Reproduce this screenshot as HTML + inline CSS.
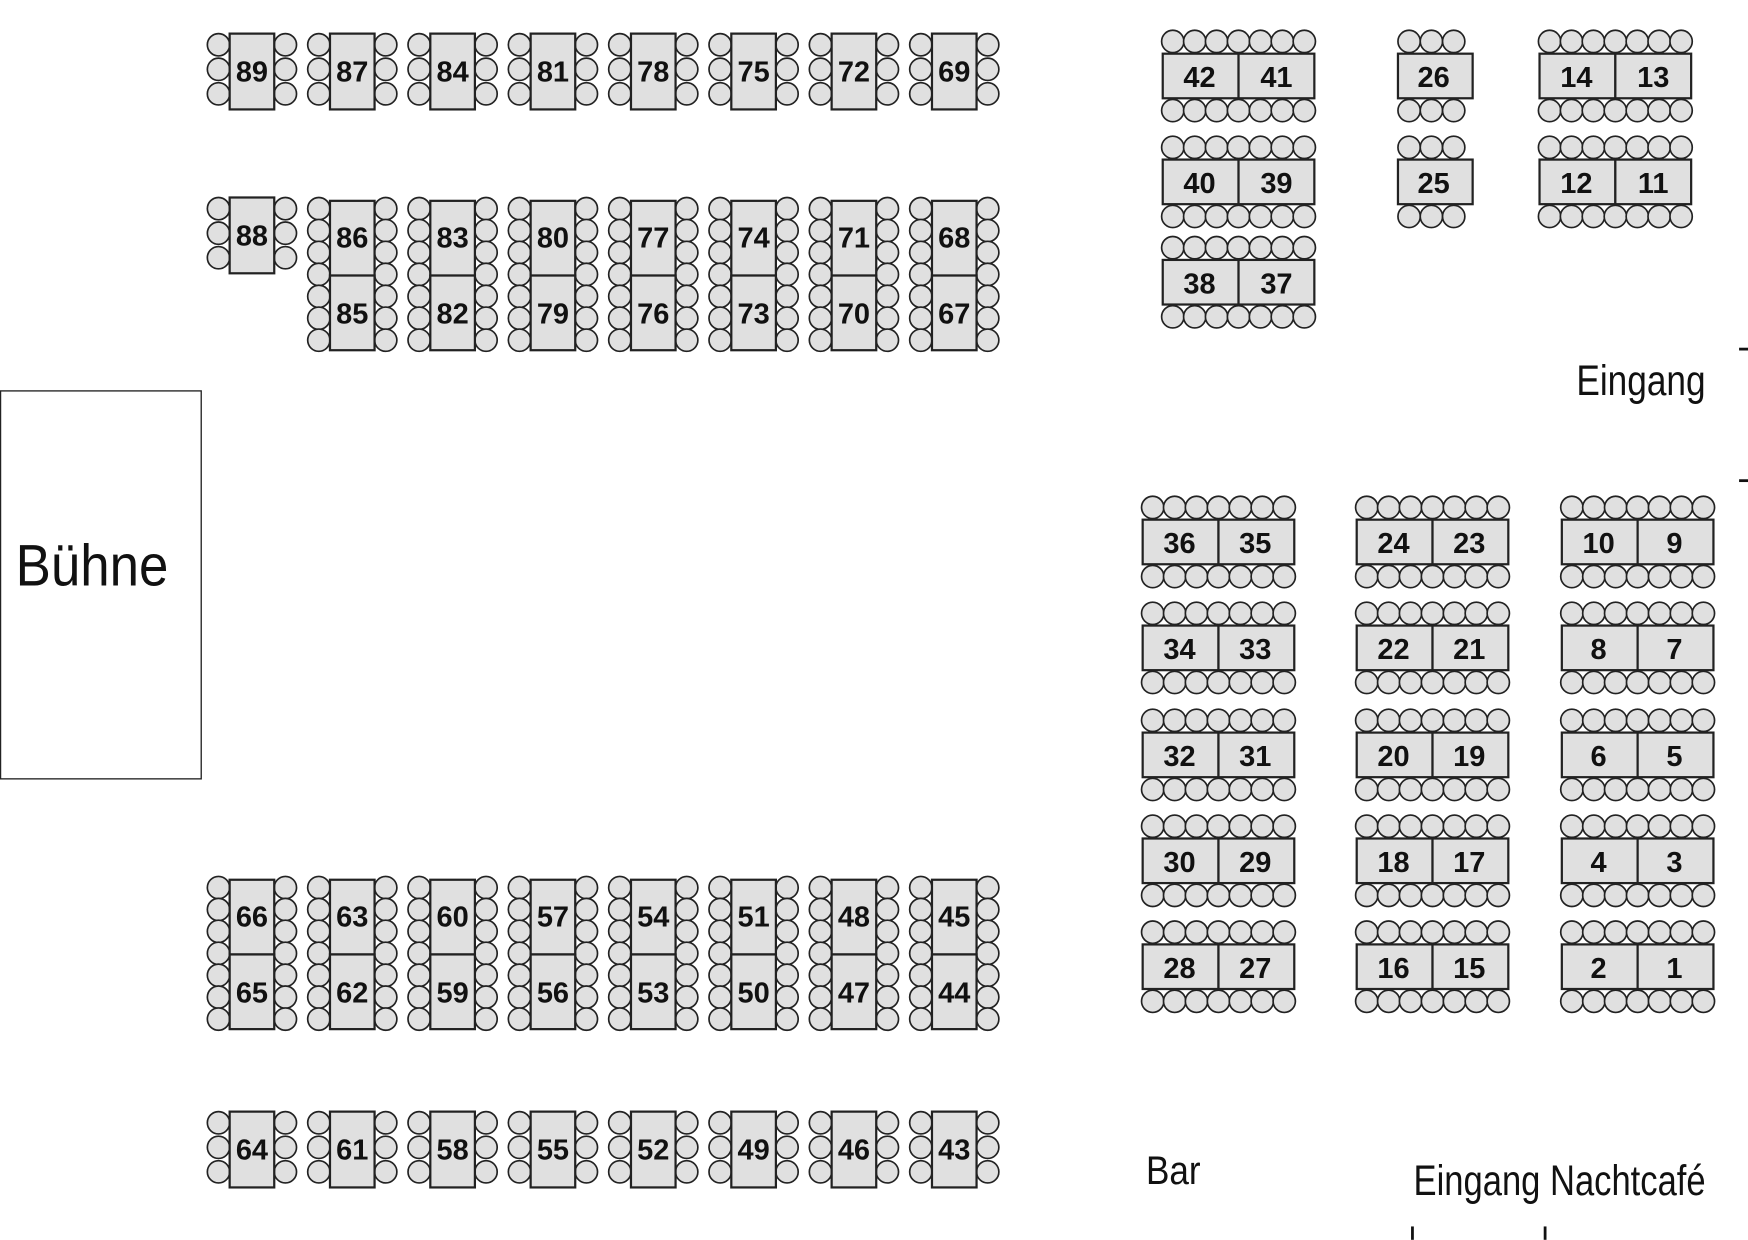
<!DOCTYPE html>
<html><head><meta charset="utf-8"><style>html,body{margin:0;padding:0;background:#fff}svg{display:block}</style></head><body>
<svg width="1748" height="1240" viewBox="0 0 1568 1112" xmlns="http://www.w3.org/2000/svg">
<defs>
<g id="v3" fill="#e0e0e0" stroke="#222" stroke-width="1.5"><circle cx="0" cy="10" r="10"/><circle cx="0" cy="32" r="10"/><circle cx="0" cy="54" r="10"/></g>
<g id="v7" fill="#e0e0e0" stroke="#222" stroke-width="1.5"><circle cx="0" cy="7" r="10"/><circle cx="0" cy="26.7" r="10"/><circle cx="0" cy="46.3" r="10"/><circle cx="0" cy="66" r="10"/><circle cx="0" cy="85.7" r="10"/><circle cx="0" cy="105.3" r="10"/><circle cx="0" cy="125" r="10"/></g>
<g id="h7" fill="#e0e0e0" stroke="#222" stroke-width="1.5"><circle cx="9" cy="0" r="10"/><circle cx="28.7" cy="0" r="10"/><circle cx="48.3" cy="0" r="10"/><circle cx="68" cy="0" r="10"/><circle cx="87.7" cy="0" r="10"/><circle cx="107.3" cy="0" r="10"/><circle cx="127" cy="0" r="10"/></g>
<g id="h3" fill="#e0e0e0" stroke="#222" stroke-width="1.5"><circle cx="10" cy="0" r="10"/><circle cx="30" cy="0" r="10"/><circle cx="50" cy="0" r="10"/></g>
<g id="s1"><use href="#v3" x="-10"/><use href="#v3" x="50"/><rect x="0" y="0" width="40" height="68" fill="#e0e0e0" stroke="#222" stroke-width="2"/></g>
<g id="s2"><use href="#v7" x="-10"/><use href="#v7" x="50"/><rect x="0" y="0" width="40" height="67" fill="#e0e0e0" stroke="#222" stroke-width="2"/><rect x="0" y="67" width="40" height="67" fill="#e0e0e0" stroke="#222" stroke-width="2"/></g>
<g id="hd"><use href="#h7" y="-11"/><use href="#h7" y="51"/><rect x="0" y="0" width="68" height="40" fill="#e0e0e0" stroke="#222" stroke-width="2"/><rect x="68" y="0" width="68" height="40" fill="#e0e0e0" stroke="#222" stroke-width="2"/></g>
<g id="hs"><use href="#h3" y="-11"/><use href="#h3" y="51"/><rect x="0" y="0" width="67" height="40" fill="#e0e0e0" stroke="#222" stroke-width="2"/></g>
</defs>

<use href="#s1" x="206" y="30"/><use href="#s1" x="296" y="30"/><use href="#s1" x="386" y="30"/><use href="#s1" x="476" y="30"/><use href="#s1" x="566" y="30"/><use href="#s1" x="656" y="30"/><use href="#s1" x="746" y="30"/><use href="#s1" x="836" y="30"/>
<use href="#s1" x="206" y="177"/>
<use href="#s2" x="296" y="180"/><use href="#s2" x="386" y="180"/><use href="#s2" x="476" y="180"/><use href="#s2" x="566" y="180"/><use href="#s2" x="656" y="180"/><use href="#s2" x="746" y="180"/><use href="#s2" x="836" y="180"/>
<use href="#s2" x="206" y="789"/><use href="#s2" x="296" y="789"/><use href="#s2" x="386" y="789"/><use href="#s2" x="476" y="789"/><use href="#s2" x="566" y="789"/><use href="#s2" x="656" y="789"/><use href="#s2" x="746" y="789"/><use href="#s2" x="836" y="789"/>
<use href="#s1" x="206" y="997"/><use href="#s1" x="296" y="997"/><use href="#s1" x="386" y="997"/><use href="#s1" x="476" y="997"/><use href="#s1" x="566" y="997"/><use href="#s1" x="656" y="997"/><use href="#s1" x="746" y="997"/><use href="#s1" x="836" y="997"/>

<g font-family="Liberation Sans, sans-serif" font-weight="bold" font-size="26" text-anchor="middle" fill="#111">
<text x="226" y="73">89</text><text x="316" y="73">87</text><text x="406" y="73">84</text><text x="496" y="73">81</text><text x="586" y="73">78</text><text x="676" y="73">75</text><text x="766" y="73">72</text><text x="856" y="73">69</text>
<text x="226" y="220">88</text>
<text x="316" y="222">86</text><text x="406" y="222">83</text><text x="496" y="222">80</text><text x="586" y="222">77</text><text x="676" y="222">74</text><text x="766" y="222">71</text><text x="856" y="222">68</text>
<text x="316" y="290">85</text><text x="406" y="290">82</text><text x="496" y="290">79</text><text x="586" y="290">76</text><text x="676" y="290">73</text><text x="766" y="290">70</text><text x="856" y="290">67</text>
<text x="226" y="831">66</text><text x="316" y="831">63</text><text x="406" y="831">60</text><text x="496" y="831">57</text><text x="586" y="831">54</text><text x="676" y="831">51</text><text x="766" y="831">48</text><text x="856" y="831">45</text>
<text x="226" y="899">65</text><text x="316" y="899">62</text><text x="406" y="899">59</text><text x="496" y="899">56</text><text x="586" y="899">53</text><text x="676" y="899">50</text><text x="766" y="899">47</text><text x="856" y="899">44</text>
<text x="226" y="1040">64</text><text x="316" y="1040">61</text><text x="406" y="1040">58</text><text x="496" y="1040">55</text><text x="586" y="1040">52</text><text x="676" y="1040">49</text><text x="766" y="1040">46</text><text x="856" y="1040">43</text>
</g>

<use href="#hd" x="1043" y="48"/><use href="#hd" x="1043" y="143"/><use href="#hd" x="1043" y="233"/>
<use href="#hs" x="1254" y="48"/><use href="#hs" x="1254" y="143"/>
<use href="#hd" x="1381" y="48"/><use href="#hd" x="1381" y="143"/>
<use href="#hd" x="1025" y="466"/><use href="#hd" x="1025" y="561"/><use href="#hd" x="1025" y="657"/><use href="#hd" x="1025" y="752"/><use href="#hd" x="1025" y="847"/>
<use href="#hd" x="1217" y="466"/><use href="#hd" x="1217" y="561"/><use href="#hd" x="1217" y="657"/><use href="#hd" x="1217" y="752"/><use href="#hd" x="1217" y="847"/>
<use href="#hd" x="1401" y="466"/><use href="#hd" x="1401" y="561"/><use href="#hd" x="1401" y="657"/><use href="#hd" x="1401" y="752"/><use href="#hd" x="1401" y="847"/>

<g font-family="Liberation Sans, sans-serif" font-weight="bold" font-size="26" text-anchor="middle" fill="#111">
<text x="1076" y="78">42</text><text x="1145" y="78">41</text>
<text x="1076" y="173">40</text><text x="1145" y="173">39</text>
<text x="1076" y="263">38</text><text x="1145" y="263">37</text>
<text x="1286" y="78">26</text><text x="1286" y="173">25</text>
<text x="1414" y="78">14</text><text x="1483" y="78">13</text>
<text x="1414" y="173">12</text><text x="1483" y="173">11</text>
<text x="1058" y="496">36</text><text x="1126" y="496">35</text>
<text x="1058" y="591">34</text><text x="1126" y="591">33</text>
<text x="1058" y="687">32</text><text x="1126" y="687">31</text>
<text x="1058" y="782">30</text><text x="1126" y="782">29</text>
<text x="1058" y="877">28</text><text x="1126" y="877">27</text>
<text x="1250" y="496">24</text><text x="1318" y="496">23</text>
<text x="1250" y="591">22</text><text x="1318" y="591">21</text>
<text x="1250" y="687">20</text><text x="1318" y="687">19</text>
<text x="1250" y="782">18</text><text x="1318" y="782">17</text>
<text x="1250" y="877">16</text><text x="1318" y="877">15</text>
<text x="1434" y="496">10</text><text x="1502" y="496">9</text>
<text x="1434" y="591">8</text><text x="1502" y="591">7</text>
<text x="1434" y="687">6</text><text x="1502" y="687">5</text>
<text x="1434" y="782">4</text><text x="1502" y="782">3</text>
<text x="1434" y="877">2</text><text x="1502" y="877">1</text>
</g>

<rect x="0.5" y="350.5" width="180" height="348" fill="#fff" stroke="#222" stroke-width="1.2"/>
<g font-family="Liberation Sans Narrow, Liberation Sans, sans-serif" fill="#111">
<text x="14" y="525" font-size="52" textLength="137" lengthAdjust="spacingAndGlyphs">Bühne</text>
<text x="1414" y="354" font-size="38" textLength="116" lengthAdjust="spacingAndGlyphs">Eingang</text>
<text x="1028" y="1062" font-size="36" textLength="49" lengthAdjust="spacingAndGlyphs">Bar</text>
<text x="1268" y="1072" font-size="38" textLength="262" lengthAdjust="spacingAndGlyphs">Eingang Nachtcafé</text>
</g>
<line x1="1560" y1="313" x2="1568" y2="313" stroke="#111" stroke-width="2.5"/>
<line x1="1560" y1="431" x2="1568" y2="431" stroke="#111" stroke-width="2.5"/>
<line x1="1267" y1="1100" x2="1267" y2="1112" stroke="#111" stroke-width="2.5"/>
<line x1="1386" y1="1100" x2="1386" y2="1112" stroke="#111" stroke-width="2.5"/>
</svg>
</body></html>
